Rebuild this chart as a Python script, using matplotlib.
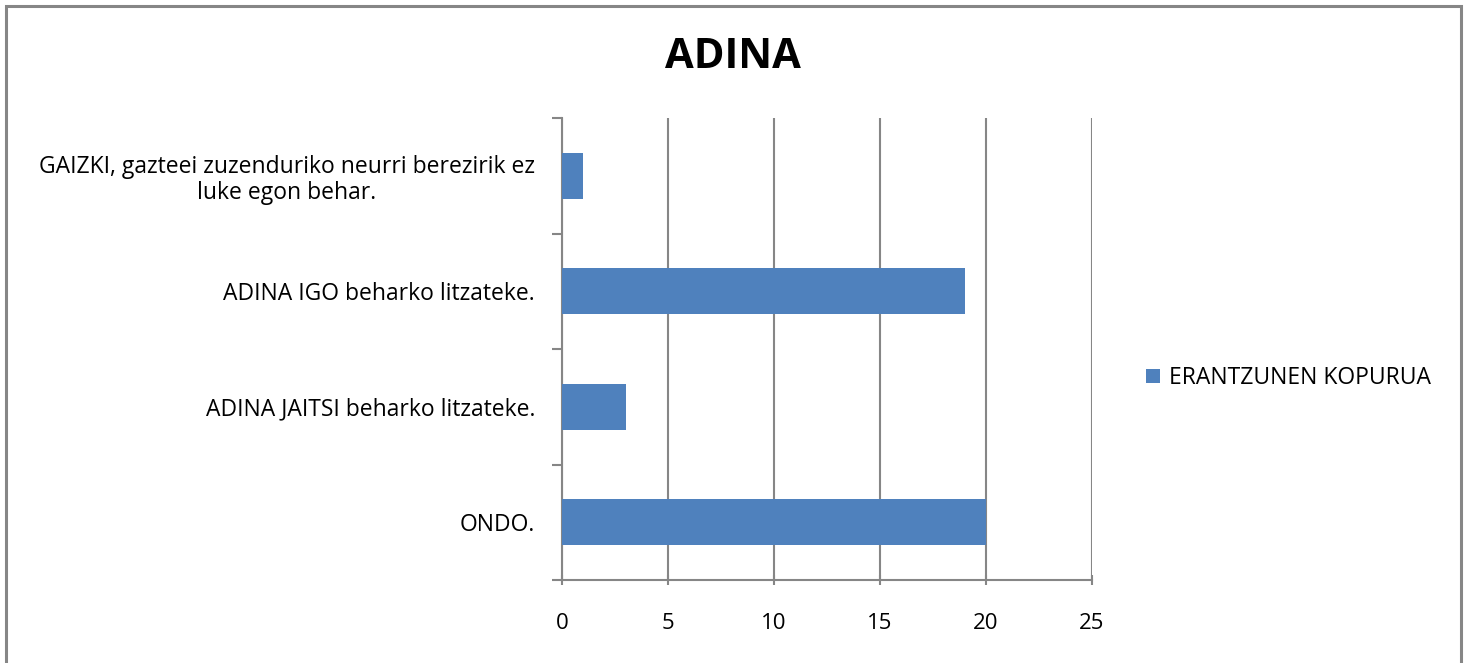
import numpy as np
import matplotlib
matplotlib.use("Agg")
import matplotlib.pyplot as plt
from matplotlib.patches import Rectangle

# ── Data (bottom to top) ─────────────────────────────────────
categories = [
    "ONDO.",
    "ADINA JAITSI beharko litzateke.",
    "ADINA IGO beharko litzateke.",
    "GAIZKI, gazteei zuzenduriko neurri berezirik ez\nluke egon behar.",
]
counts = [20, 3, 19, 1]
series_name = "ERANTZUNEN KOPURUA"
x_ticks = [0, 5, 10, 15, 20, 25]

BAR_COLOR = "#4F81BD"
GRID_COLOR = "#868686"

plt.rcParams["font.family"] = ["Open Sans", "DejaVu Sans"]

W, H = 1469, 663
fig = plt.figure(figsize=(W / 100, H / 100), dpi=100)

# outer chart border
fig.patches.append(Rectangle((5.5 / W, -0.01), (1461 - 5.5) / W, 1 - 5.5 / H + 0.01,
                             transform=fig.transFigure, fill=False,
                             edgecolor=GRID_COLOR, linewidth=2.2))

ax = fig.add_axes([562 / W, 1 - 580 / H, (1092 - 562) / W, (580 - 118) / H])

y = np.arange(len(categories))
ax.barh(y, counts, height=0.4, color=BAR_COLOR, zorder=3, label=series_name)

ax.set_xlim(0, 25)
ax.set_ylim(-0.5, len(categories) - 0.5)
ax.set_xticks(x_ticks)
ax.set_xticklabels([str(t) for t in x_ticks], fontsize=16)
ax.set_yticks(y)
ax.set_yticklabels(categories, fontsize=16.5, ha="right", multialignment="center",
                   linespacing=1.15)
ax.set_yticks(np.arange(-0.5, len(categories), 1), minor=True)
ax.tick_params(axis="y", which="major", length=0, pad=19.5)
ax.tick_params(axis="y", which="minor", length=7, width=1.5, color=GRID_COLOR, direction="out")
ax.tick_params(axis="x", length=7, width=1.5, color=GRID_COLOR, direction="inout", pad=20.5)

ax.xaxis.grid(True, color=GRID_COLOR, linewidth=1.5, zorder=0)
for s in ["top", "right"]:
    ax.spines[s].set_visible(False)
for s in ["left", "bottom"]:
    ax.spines[s].set_color(GRID_COLOR)
    ax.spines[s].set_linewidth(1.5)

fig.text(733 / W, 1 - 57 / H, "ADINA", ha="center", va="center",
         fontsize=30, fontweight="bold")

fig.legend(loc="center left", bbox_to_anchor=(1137 / W, 1 - 378 / H),
           frameon=False, fontsize=16.5, handlelength=0.6, handleheight=0.6,
           handletextpad=0.4, borderaxespad=0)

fig.savefig("out.png", dpi=100)
